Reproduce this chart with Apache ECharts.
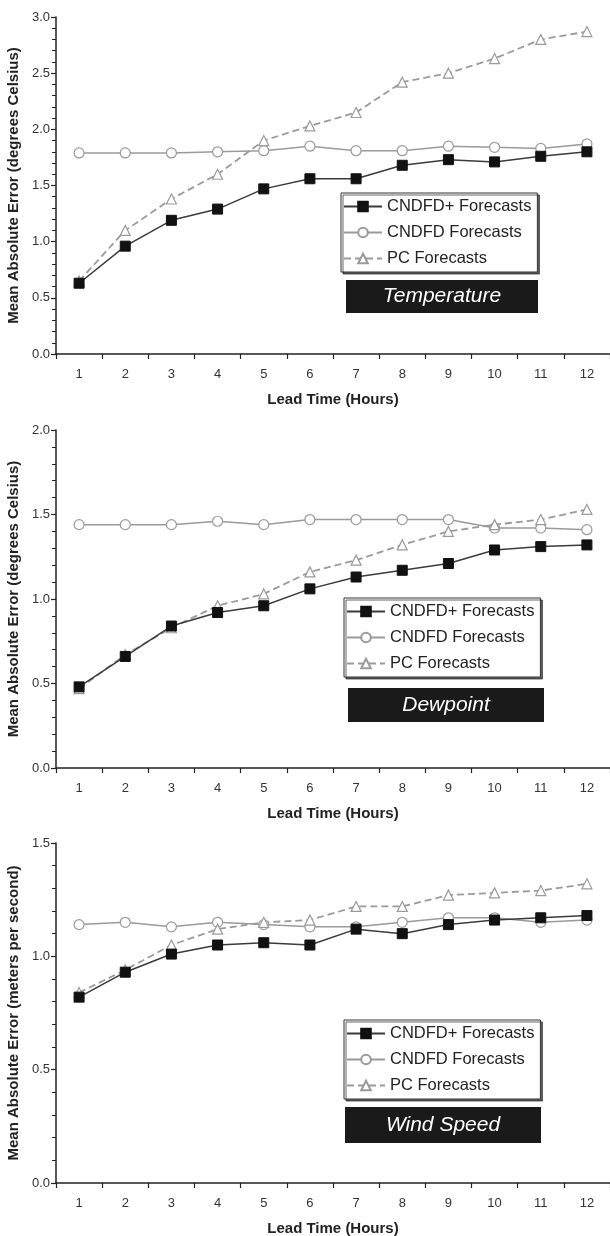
<!DOCTYPE html>
<html>
<head>
<meta charset="utf-8">
<script src="https://cdn.jsdelivr.net/npm/echarts@6/dist/echarts.min.js"></script>
<style>
html,body{margin:0;padding:0;background:#fff;}
#c{width:610px;height:1236px;}
</style>
</head>
<body>
<div id="c"></div>
<script>
const categories = ['1','2','3','4','5','6','7','8','9','10','11','12'];
const seriesNames = ['CNDFD+ Forecasts','CNDFD Forecasts','PC Forecasts'];

// Temperature
const tempPlus = [0.63,0.96,1.19,1.29,1.47,1.56,1.56,1.68,1.73,1.71,1.76,1.80];
const tempCndfd = [1.79,1.79,1.79,1.80,1.81,1.85,1.81,1.81,1.85,1.84,1.83,1.87];
const tempPC = [0.65,1.10,1.38,1.60,1.90,2.03,2.15,2.42,2.50,2.63,2.80,2.87];
// Dewpoint
const dewPlus = [0.48,0.66,0.84,0.92,0.96,1.06,1.13,1.17,1.21,1.29,1.31,1.32];
const dewCndfd = [1.44,1.44,1.44,1.46,1.44,1.47,1.47,1.47,1.47,1.42,1.42,1.41];
const dewPC = [0.47,0.67,0.83,0.96,1.03,1.16,1.23,1.32,1.40,1.44,1.47,1.53];
// Wind speed
const windPlus = [0.82,0.93,1.01,1.05,1.06,1.05,1.12,1.10,1.14,1.16,1.17,1.18];
const windCndfd = [1.14,1.15,1.13,1.15,1.14,1.13,1.13,1.15,1.17,1.17,1.15,1.16];
const windPC = [0.84,0.94,1.05,1.12,1.15,1.16,1.22,1.22,1.27,1.28,1.29,1.32];

const panelTitles = ['Temperature','Dewpoint','Wind Speed'];
const yNames = ['Mean Absolute Error (degrees Celsius)','Mean Absolute Error (degrees Celsius)','Mean Absolute Error (meters per second)'];
const yMax = [3.0, 2.0, 1.5];
const xName = 'Lead Time (Hours)';

const panels = [
  [tempPlus,tempCndfd,tempPC],
  [dewPlus,dewCndfd,dewPC],
  [windPlus,windCndfd,windPC]
];

const FONT = '"Liberation Sans", Arial, sans-serif';
const gridTops = [17, 430, 843];
const gridHeights = [337, 338, 340];
const legendTops = [193, 598, 1020];
const legendLefts = [341, 344, 344];
const boxes = [[346,280,192,33],[348,688,196,34],[345,1107,196,36]];

const chart = echarts.init(document.getElementById('c'), null, {renderer:'canvas'});

const grid = [], xAxis = [], yAxis = [], series = [], legend = [], graphic = [];
for (let i=0;i<3;i++){
  grid.push({left:56, right:0, top:gridTops[i], height:gridHeights[i], containLabel:false, outerBoundsMode:'none'});
  xAxis.push({
    type:'category', gridIndex:i, data:categories, boundaryGap:true,
    name:xName, nameLocation:'middle', nameGap:38,
    nameTextStyle:{fontFamily:FONT, fontWeight:'bold', fontSize:15, color:'#222'},
    axisLine:{lineStyle:{color:'#222', width:1.5}},
    axisTick:{show:true, inside:false, length:5, lineStyle:{color:'#222', width:1.2}},
    axisLabel:{fontFamily:FONT, fontSize:13, color:'#333', margin:14}
  });
  yAxis.push({
    type:'value', gridIndex:i, min:0, max:yMax[i], interval:0.5,
    name:yNames[i], nameLocation:'middle', nameGap:32, nameRotate:90,
    nameTextStyle:{fontFamily:FONT, fontWeight:'bold', fontSize:15, color:'#222'},
    axisLine:{show:true, lineStyle:{color:'#222', width:1.5}},
    axisTick:{show:true, inside:false, length:5, lineStyle:{color:'#222', width:1.2}},
    minorTick:{show:true, splitNumber:5, length:4, lineStyle:{color:'#222', width:1}},
    splitLine:{show:false},
    axisLabel:{fontFamily:FONT, fontSize:13, color:'#333', margin:6, formatter:v=>v.toFixed(1)}
  });
  const d = panels[i];
  series.push({
    name:seriesNames[0], type:'line', xAxisIndex:i, yAxisIndex:i, data:d[0],
    symbol:'rect', symbolSize:10, z:4,
    lineStyle:{color:'#3a3a3a', width:1.5},
    itemStyle:{color:'#111', borderColor:'#111', borderWidth:1}
  });
  series.push({
    name:seriesNames[1], type:'line', xAxisIndex:i, yAxisIndex:i, data:d[1],
    symbol:'circle', symbolSize:10, z:3,
    lineStyle:{color:'#9a9a9a', width:1.5},
    itemStyle:{color:'#fff', borderColor:'#9a9a9a', borderWidth:1.2}
  });
  series.push({
    name:seriesNames[2], type:'line', xAxisIndex:i, yAxisIndex:i, data:d[2],
    symbol:'triangle', symbolSize:10, z:3,
    lineStyle:{color:'#9a9a9a', width:1.8, type:[7,4]},
    itemStyle:{color:'#fff', borderColor:'#9a9a9a', borderWidth:1.2}
  });
  legend.push({
    orient:'vertical', left:legendLefts[i], top:legendTops[i],
    data:seriesNames, itemWidth:38, itemHeight:12, itemGap:9,
    padding:[5,6,5,2],
    backgroundColor:'#fff', borderColor:'#333', borderWidth:1,
    shadowColor:'rgba(0,0,0,0.6)', shadowOffsetX:2, shadowOffsetY:2, shadowBlur:0,
    textStyle:{fontFamily:FONT, fontSize:16.5, color:'#222'},
    selectedMode:false
  });
  const b = boxes[i];
  graphic.push({
    type:'group', left:b[0], top:b[1],
    children:[
      {type:'rect', shape:{x:0,y:0,width:b[2],height:b[3]}, style:{fill:'#1a1a1a'}},
      {type:'text', x:b[2]/2, y:b[3]/2, style:{text:panelTitles[i], fill:'#fff', font:'italic 21px '+FONT, align:'center', verticalAlign:'middle'}}
    ]
  });
}

chart.setOption({
  animation:false,
  backgroundColor:'#fff',
  grid, xAxis, yAxis, series, legend, graphic
});
</script>
</body>
</html>
